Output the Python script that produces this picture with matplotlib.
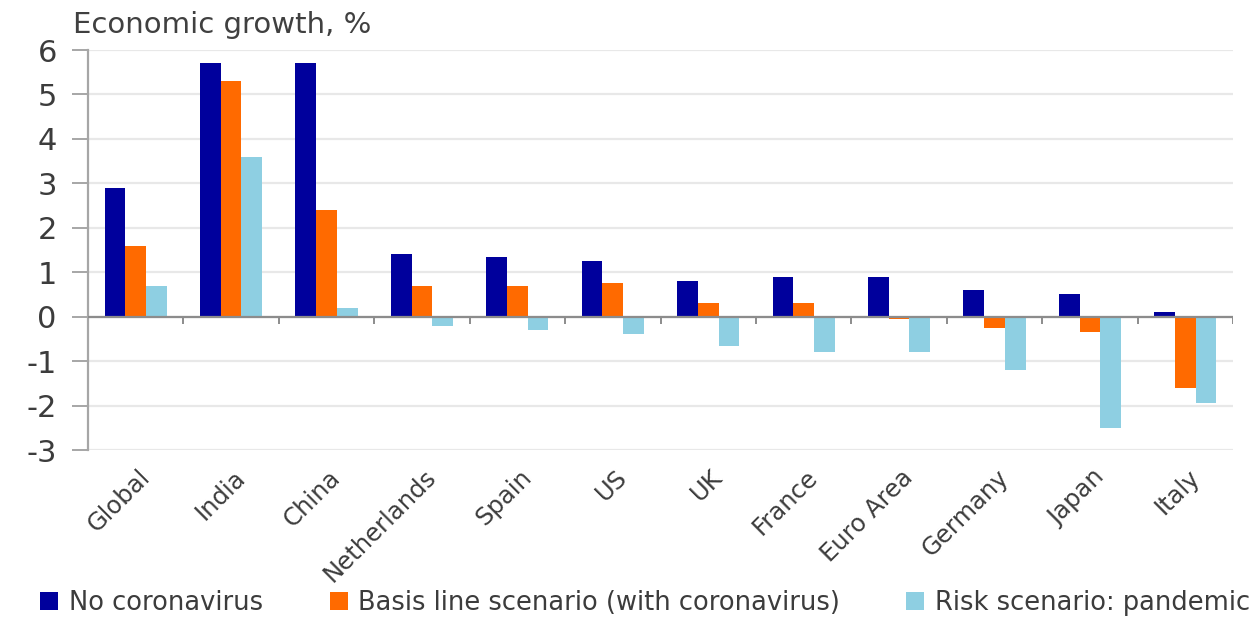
import numpy as np
import matplotlib
matplotlib.use("Agg")
import matplotlib.pyplot as plt
import matplotlib.transforms as mtransforms
from matplotlib.patches import Patch

categories = ["Global", "India", "China", "Netherlands", "Spain", "US", "UK",
              "France", "Euro Area", "Germany", "Japan", "Italy"]
no_corona = [2.9, 5.7, 5.7, 1.4, 1.35, 1.25, 0.8, 0.9, 0.9, 0.6, 0.5, 0.1]
baseline = [1.6, 5.3, 2.4, 0.7, 0.7, 0.75, 0.3, 0.3, -0.05, -0.25, -0.35, -1.6]
pandemic = [0.7, 3.6, 0.2, -0.2, -0.3, -0.4, -0.65, -0.8, -0.8, -1.2, -2.5, -1.95]
series_names = ["No coronavirus", "Basis line scenario (with coronavirus)",
                "Risk scenario: pandemic"]
colors = ["#00009C", "#FF6A00", "#8ECFE2"]
yticks = [-3, -2, -1, 0, 1, 2, 3, 4, 5, 6]

plt.rcParams['font.family'] = ['DejaVu Sans']
fig = plt.figure(figsize=(12.6, 6.18), dpi=100)
ax = fig.add_axes([88/1260, 1-450/618, (1233-88)/1260, 400/618])

x = np.arange(len(categories))
w = 0.217
for i, (vals, c) in enumerate(zip([no_corona, baseline, pandemic], colors)):
    ax.bar(x + (i - 1) * w, vals, width=w, color=c, zorder=2, linewidth=0)

ax.set_xlim(-0.5, len(categories) - 0.5)
ax.set_ylim(-3, 6)
ax.set_yticks(yticks)
ax.set_yticklabels([str(t) for t in yticks])
ax.yaxis.grid(True, color="#e8e8e8", linewidth=1.6, zorder=0)
ax.set_axisbelow(True)
ax.axhline(0, color="#8c8c8c", linewidth=1.6, zorder=3)
bounds = np.arange(len(categories) + 1) - 0.5
ax.vlines(bounds[1:], -0.16, 0, color="#8c8c8c", linewidth=1.4, zorder=3)

for s in ["top", "right", "bottom"]:
    ax.spines[s].set_visible(False)
ax.spines["left"].set_color("#a6a6a6")
ax.spines["left"].set_linewidth(1.6)
ax.tick_params(axis="y", length=11.5, width=1.4, color="#a6a6a6",
               labelsize=22, labelcolor="#3c3c3c", pad=11)

ax.set_xticks(x)
ax.set_xticklabels(categories, rotation=45, ha="right", va="top",
                   rotation_mode="anchor", fontsize=17.5, color="#3c3c3c")
ax.tick_params(axis="x", length=0, pad=11)
offset = mtransforms.ScaledTranslation(2/100, 0, fig.dpi_scale_trans)
for lbl in ax.get_xticklabels():
    lbl.set_transform(lbl.get_transform() + offset)

fig.text(73/1260, 1-33/618, "Economic growth, %", fontsize=21,
         color="#404040", va="baseline", ha="left")

handles = [Patch(facecolor=c, edgecolor="none") for c in colors]
leg = fig.legend(handles, series_names, loc="center", ncol=3,
                 bbox_to_anchor=(0.512, 1-603/618), frameon=False,
                 fontsize=18.5, handlelength=0.7, handleheight=0.7,
                 handletextpad=0.4, columnspacing=2.6)
for t in leg.get_texts():
    t.set_color("#3c3c3c")

fig.savefig("out.png", dpi=100)
